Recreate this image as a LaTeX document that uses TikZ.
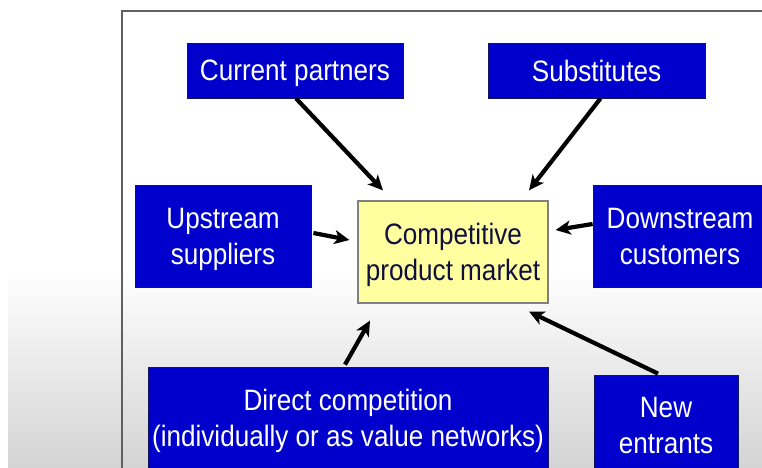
\documentclass[tikz,border=0pt]{standalone}
\usepackage{fontspec}
\setmainfont{Liberation Sans}
% slightly narrow face for the box labels
\newfontfamily\boxfont[FakeStretch=0.885]{Liberation Sans}
\usetikzlibrary{arrows.meta}
\definecolor{boxblue}{RGB}{0,0,204}
\definecolor{boxedge}{RGB}{20,20,90}
\definecolor{mktfill}{RGB}{255,255,160}
\definecolor{mkttext}{RGB}{16,16,64}
\definecolor{frameline}{RGB}{96,96,96}
\begin{document}
\begin{tikzpicture}[x=1bp,y=-1bp,
  every node/.style={font=\boxfont\fontsize{29.5bp}{36bp}\selectfont, align=center, inner sep=0pt, text depth=0bp},
  force/.style={draw=boxedge, line width=0.8bp, fill=boxblue, text=white},
  market/.style={draw=gray, line width=1.2bp, fill=mktfill, text=mkttext},
  arr/.style={line width=4.2bp, black, -{Stealth[length=15bp,width=14bp,inset=4bp]}}]
  \useasboundingbox (0,0) rectangle (762,468);
  % page background with soft grey fade towards the bottom
  \fill[white] (0,0) rectangle (762,468);
  \shade[top color=white, bottom color=black!17] (8,270) rectangle (762,468);
  % slide frame
  \draw[frameline, line width=1.6bp] (122,470) -- (122,11) -- (765,11);

  % forces around the market
  \node[force, minimum width=216bp, minimum height=55bp] (cp) at (295,70.5) {Current partners};
  \node[force, minimum width=217bp, minimum height=55bp] (sub) at (596.5,70.5) {Substitutes};
  \node[force, minimum width=176bp, minimum height=102bp] (up) at (223,236) {Upstream\\suppliers};
  \node[force, minimum width=174bp, minimum height=102bp] (down) at (680,236) {Downstream\\customers};
  \node[force, minimum width=400bp, minimum height=102bp] (dc) at (348,418) {Direct competition\\(individually or as value networks)};
  \node[force, minimum width=144bp, minimum height=100bp] (ne) at (666,425) {New\\entrants};

  % the market in the middle
  \node[market, minimum width=190bp, minimum height=102bp] (mkt) at (453,252) {Competitive\\product market};

  % influences pointing at the market
  \draw[arr] ([xshift=1bp]cp.south) -- ([xshift=-70bp,yshift=10bp]mkt.north);
  \draw[arr] ([xshift=4bp]sub.south) -- ([xshift=76bp,yshift=10bp]mkt.north);
  \draw[arr] ([xshift=2bp,yshift=3bp]up.east) -- ([xshift=-8bp,yshift=12bp]mkt.west);
  \draw[arr] ([yshift=12bp]down.west) -- ([xshift=7bp,yshift=22bp]mkt.east);
  \draw[arr] ([xshift=-3bp,yshift=2bp]dc.north) -- ([xshift=-83bp,yshift=-17bp]mkt.south);
  \draw[arr] ([xshift=-8bp,yshift=1bp]ne.north) -- ([xshift=76bp,yshift=-8bp]mkt.south);
\end{tikzpicture}
\end{document}
